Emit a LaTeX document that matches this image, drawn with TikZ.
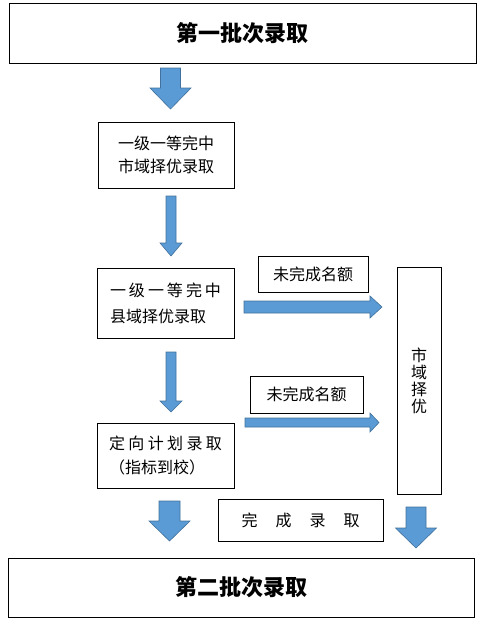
\documentclass[tikz,border=0pt]{standalone}
\usepackage{fontspec}
\setmainfont{Noto Sans CJK SC}
\usetikzlibrary{positioning, calc}
\definecolor{arrowfill}{RGB}{91,155,213}
\definecolor{arrowline}{RGB}{65,113,156}
% block arrows: centre x, top y, tip y, shaft half, head half, head start y
\newcommand{\arrowdown}[6]{\filldraw[blockarrow] (#1-#4,#2) -- (#1+#4,#2) -- (#1+#4,#6) -- (#1+#5,#6) -- (#1,#3) -- (#1-#5,#6) -- (#1-#4,#6) -- cycle;}
% start x, centre y, tip x, shaft half, head half, head start x
\newcommand{\arrowright}[6]{\filldraw[blockarrow] (#1,#2-#4) -- (#6,#2-#4) -- (#6,#2-#5) -- (#3,#2) -- (#6,#2+#5) -- (#6,#2+#4) -- (#1,#2+#4) -- cycle;}

\begin{document}
\begin{tikzpicture}[x=1pt, y=-1pt,
  box/.style={draw, line width=0.8pt, inner sep=0pt, align=center, font=\fontsize{16}{23}\selectfont},
  title/.style={box, font=\fontsize{22}{22}\selectfont\bfseries},
  blockarrow/.style={fill=arrowfill, draw=arrowline, line width=0.6pt}]
\useasboundingbox (0,0) rectangle (486,629);

\node[title, minimum width=467, minimum height=60] (first) at (242.5,33) {第一批次录取};
\node[box, minimum width=136, minimum height=66] (city) at (166,155) {一级一等完中\\市域择优录取};
\node[box, minimum width=137, minimum height=70, align=left, font=\fontsize{16}{26}\selectfont] (county) at (165.5,303) {\makebox[111pt][s]{一\hfill{}级\hfill{}一\hfill{}等\hfill{}完\hfill{}中}\\县域择优录取};
\node[box, minimum width=137, minimum height=65, align=left, font=\fontsize{16}{24}\selectfont] (direct) at (165.5,455.5) {\makebox[113pt][s]{定\hfill{}向\hfill{}计\hfill{}划\hfill{}录\hfill{}取}\\（指标到校）};
\node[box, minimum width=110, minimum height=36] (left1) at (313,274) {未完成名额};
\node[box, minimum width=113, minimum height=37] (left2) at (306.5,394.5) {未完成名额};
\node[box, minimum width=44, minimum height=227, text width=17pt, font=\fontsize{16}{17}\selectfont] (select) at (419,380.5) {市\\域\\择\\优};
\node[box, minimum width=165, minimum height=42] (done) at (300.5,520) {\makebox[118pt][s]{完\hfill{}成\hfill{}录\hfill{}取}};
\node[title, minimum width=466, minimum height=59] (second) at (241,587.5) {第二批次录取};

\arrowdown{170.5}{68}{109}{10}{20.5}{88}
\arrowdown{171}{196}{256}{5}{11}{243}
\arrowdown{171}{352}{412}{5}{11}{401}
\arrowdown{169.5}{501}{541}{10.5}{20.5}{521}
\arrowdown{416}{507}{548}{10}{20.5}{528}
\arrowright{244}{307}{382}{6}{11}{370}
\arrowright{245}{422.5}{379}{4.5}{9.5}{370}
\end{tikzpicture}
\end{document}
